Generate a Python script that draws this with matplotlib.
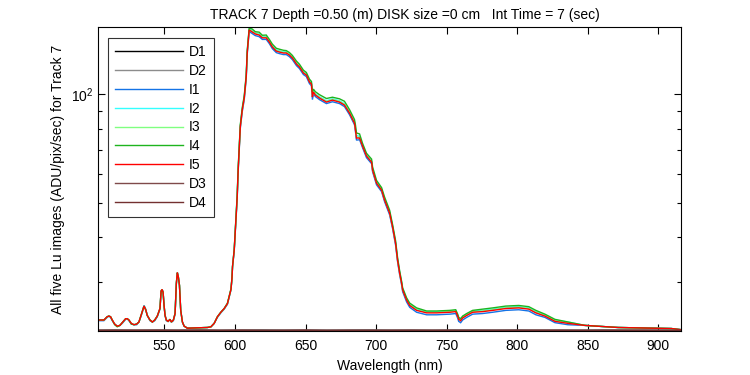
import matplotlib
matplotlib.use("Agg")
import matplotlib.pyplot as plt
from matplotlib.ticker import LogLocator, NullFormatter, FixedLocator

plt.rcParams['font.family'] = ['Liberation Sans', 'DejaVu Sans']

# ---------------- data ----------------
wl = [503.6, 507.2, 509.5, 510.7, 511.9, 513.1, 514.8, 516.6, 518.5, 520.2,
      522.6, 523.7, 524.9, 526.6, 528.5, 530.4, 532.0, 533.2, 534.4, 535.6,
      536.8, 537.9, 539.8, 541.5, 543.2, 545.0, 546.9, 547.7, 548.4, 549.1,
      549.8, 550.5, 551.4, 552.6, 554.0, 555.0, 556.4, 557.6, 558.5, 559.2,
      559.9, 560.7, 561.6, 562.8, 564.0, 566.3, 580.5, 583.0, 585.3, 587.6,
      590.0, 592.4, 594.7, 595.9, 597.2, 597.9, 598.3, 599.5,
      601.6, 602.3, 603.8, 605.2, 606.6, 608.0, 608.7, 610.1, 612.3, 614.4,
      617.2, 619.4, 622.2, 624.4, 626.5, 629.3, 631.5, 634.3, 636.4, 638.6,
      640.7, 643.6, 645.7, 648.5, 650.6, 652.8, 654.2, 654.9, 655.6, 657.0,
      659.9, 664.8, 669.1, 674.1, 677.6, 681.2, 684.7, 685.4, 686.1, 688.3,
      690.4, 693.2, 696.8, 697.5, 700.3, 703.9, 706.0, 709.6, 711.7, 713.8,
      715.2, 716.7, 718.1, 718.8, 721.6, 723.8, 728.7, 735.8, 742.9, 752.2,
      756.4, 757.8, 758.5, 759.9, 761.3, 764.2, 768.4, 775.5, 782.6, 791.9,
      801.1, 808.2, 813.2, 819.6, 826.7, 835.9, 848.0, 871.4, 894.9, 909.1,
      915.5]

I1 = [23.5, 23.5, 24.0, 24.2, 24.0, 23.5, 23.0, 22.7, 22.8, 23.1,
      23.7, 23.8, 23.5, 23.0, 22.9, 22.9, 23.3, 24.0, 24.8, 25.9,
      25.3, 24.3, 23.5, 23.3, 23.5, 24.1, 25.3, 28.4, 28.7, 28.2,
      25.9, 24.3, 23.5, 23.4, 23.6, 23.3, 23.5, 24.5, 29.7, 31.9,
      31.1, 29.4, 25.1, 23.3, 22.7, 22.4, 22.5, 22.6, 23.1, 24.0,
      24.7, 25.3, 26.1, 27.3, 28.6, 30.7, 33.1, 36.7,
      51.2, 60.9, 80.2, 89.4, 96.5, 110.4, 128.7, 149.1, 147.1, 145.3,
      144.3, 141.8, 141.8, 138.0, 133.7, 130.3, 129.5, 128.7, 128.7, 127.0,
      124.6, 119.9, 117.7, 113.3, 111.8, 106.9, 105.5, 96.5, 100.3, 98.4,
      96.5, 94.1, 95.2, 94.1, 92.3, 87.6, 82.2, 78.6, 74.5, 74.7,
      71.0, 66.6, 64.1, 60.9, 56.0, 53.6, 50.3, 46.2, 42.3, 38.1,
      34.3, 31.5, 29.5, 28.3, 26.5, 25.6, 24.8, 24.4, 24.4, 24.5,
      24.6, 23.9, 23.4, 23.2, 23.6, 24.0, 24.5, 24.6, 24.8, 25.1,
      25.2, 25.0, 24.4, 24.0, 23.2, 22.9, 22.8, 22.5, 22.4, 22.35,
      22.2]

I2 = [23.6, 23.6, 24.1, 24.2, 24.1, 23.6, 23.0, 22.7, 22.8, 23.2,
      23.8, 23.8, 23.6, 23.1, 22.9, 23.0, 23.3, 24.1, 24.9, 25.8,
      25.2, 24.3, 23.6, 23.3, 23.6, 24.2, 25.4, 28.4, 28.7, 28.2,
      25.9, 24.3, 23.6, 23.4, 23.7, 23.3, 23.6, 24.6, 29.8, 32.0,
      31.1, 29.5, 25.1, 23.3, 22.7, 22.4, 22.5, 22.6, 23.1, 24.1,
      24.8, 25.4, 26.2, 27.4, 28.7, 30.8, 33.2, 37.0,
      52.1, 62.0, 81.6, 91.0, 98.3, 112.4, 131.0, 151.8, 149.8, 148.0,
      147.0, 144.3, 144.3, 140.5, 136.2, 132.7, 131.8, 131.0, 131.0, 129.3,
      126.9, 122.1, 119.9, 115.3, 113.8, 108.9, 107.5, 99.5, 102.1, 100.2,
      98.3, 95.8, 97.0, 95.8, 94.0, 89.2, 83.7, 80.5, 76.8, 76.3,
      72.3, 67.8, 65.2, 62.0, 57.1, 54.5, 51.2, 47.1, 43.0, 38.8,
      34.9, 32.1, 30.0, 28.8, 27.0, 26.1, 25.3, 24.9, 24.9, 25.0,
      25.1, 24.4, 23.9, 23.7, 24.1, 24.5, 25.0, 25.1, 25.3, 25.6,
      25.7, 25.5, 24.9, 24.4, 23.6, 23.3, 22.8, 22.5, 22.4, 22.35,
      22.2]

I3 = [23.6, 23.6, 24.1, 24.2, 24.1, 23.6, 23.0, 22.7, 22.8, 23.2,
      23.8, 23.8, 23.6, 23.1, 22.9, 23.0, 23.3, 24.1, 24.9, 25.8,
      25.2, 24.3, 23.6, 23.3, 23.6, 24.2, 25.4, 28.4, 28.7, 28.2,
      25.9, 24.3, 23.6, 23.4, 23.7, 23.3, 23.6, 24.6, 29.8, 32.0,
      31.1, 29.5, 25.1, 23.3, 22.7, 22.4, 22.5, 22.6, 23.1, 24.1,
      24.8, 25.4, 26.2, 27.4, 28.7, 30.8, 33.2, 36.9,
      51.9, 61.7, 81.3, 90.7, 97.9, 111.9, 130.5, 151.2, 149.2, 147.4,
      146.4, 143.8, 143.8, 140.0, 135.6, 132.1, 131.3, 130.5, 130.5, 128.8,
      126.4, 121.6, 119.4, 114.9, 113.4, 108.4, 107.0, 98.8, 101.7, 99.8,
      97.9, 95.4, 96.6, 95.4, 93.6, 88.9, 83.3, 79.9, 76.0, 75.8,
      72.0, 67.6, 65.0, 61.7, 56.8, 54.3, 51.0, 46.9, 42.9, 38.7,
      34.7, 31.9, 29.9, 28.7, 26.9, 26.0, 25.2, 24.8, 24.8, 24.9,
      25.0, 24.3, 23.8, 23.6, 24.0, 24.4, 24.9, 25.0, 25.2, 25.5,
      25.6, 25.4, 24.8, 24.3, 23.5, 23.2, 22.8, 22.5, 22.4, 22.35,
      22.2]

I4 = [23.6, 23.6, 24.1, 24.2, 24.1, 23.6, 22.9, 22.6, 22.8, 23.2,
      23.8, 23.8, 23.6, 23.0, 22.9, 23.0, 23.3, 24.1, 24.9, 25.8,
      25.2, 24.3, 23.6, 23.3, 23.6, 24.2, 25.4, 28.4, 28.6, 28.2,
      25.9, 24.3, 23.6, 23.4, 23.7, 23.3, 23.6, 24.6, 29.8, 31.9,
      31.1, 29.5, 25.1, 23.3, 22.7, 22.4, 22.5, 22.6, 23.1, 24.1,
      24.8, 25.4, 26.3, 27.5, 28.8, 30.9, 33.3, 37.1,
      52.5, 62.4, 82.2, 91.7, 99.0, 113.2, 132.0, 152.5, 151.5, 149.0,
      148.5, 145.6, 145.8, 141.8, 137.6, 134.0, 133.2, 132.3, 132.0, 130.4,
      128.0, 123.4, 121.0, 116.5, 114.8, 110.0, 108.4, 101.5, 103.2, 101.5,
      99.6, 97.2, 98.0, 97.0, 95.5, 90.5, 85.0, 82.0, 78.0, 77.5,
      73.0, 68.5, 66.0, 62.8, 57.6, 55.0, 51.8, 47.6, 43.4, 39.2,
      35.2, 32.3, 30.2, 29.0, 27.2, 26.3, 25.5, 25.0, 25.0, 25.1,
      25.2, 24.5, 24.0, 23.8, 24.2, 24.6, 25.1, 25.3, 25.5, 25.8,
      25.9, 25.7, 25.1, 24.5, 23.7, 23.3, 22.8, 22.5, 22.4, 22.35,
      22.2]

I5 = [23.6, 23.6, 24.1, 24.2, 24.1, 23.6, 23.0, 22.7, 22.8, 23.2,
      23.8, 23.8, 23.6, 23.1, 22.9, 23.0, 23.3, 24.1, 24.9, 25.8,
      25.2, 24.3, 23.6, 23.3, 23.6, 24.2, 25.4, 28.4, 28.7, 28.2,
      25.9, 24.3, 23.6, 23.4, 23.7, 23.3, 23.6, 24.6, 29.8, 32.0,
      31.1, 29.5, 25.1, 23.3, 22.7, 22.4, 22.5, 22.6, 23.1, 24.1,
      24.8, 25.4, 26.2, 27.4, 28.7, 30.8, 33.2, 36.9,
      51.7, 61.5, 81.0, 90.3, 97.5, 111.5, 130.0, 150.6, 148.6, 146.8,
      145.8, 143.2, 143.2, 139.4, 135.1, 131.6, 130.8, 130.0, 130.0, 128.3,
      125.9, 121.1, 118.9, 114.4, 112.9, 108.0, 106.6, 98.1, 101.3, 99.4,
      97.5, 95.0, 96.2, 95.0, 93.2, 88.5, 83.0, 79.4, 75.5, 75.5,
      71.7, 67.3, 64.7, 61.5, 56.6, 54.1, 50.8, 46.7, 42.7, 38.5,
      34.6, 31.8, 29.8, 28.6, 26.8, 25.9, 25.1, 24.7, 24.7, 24.8,
      24.9, 24.2, 23.7, 23.5, 23.9, 24.3, 24.8, 24.9, 25.1, 25.4,
      25.5, 25.3, 24.7, 24.2, 23.4, 23.1, 22.8, 22.5, 22.4, 22.35,
      22.2]

dark_wl = [503, 515, 530, 545, 560, 575, 590, 605, 620, 635, 650, 665, 680,
           695, 710, 725, 740, 755, 770, 785, 800, 815, 830, 845, 860, 875,
           890, 905, 916]
D1 = [22.10, 22.12, 22.08, 22.11, 22.09, 22.13, 22.08, 22.10, 22.12, 22.09,
      22.11, 22.08, 22.10, 22.12, 22.09, 22.10, 22.08, 22.11, 22.09, 22.10,
      22.12, 22.08, 22.10, 22.09, 22.11, 22.10, 22.08, 22.10, 22.09]
D2 = [22.12, 22.09, 22.13, 22.08, 22.12, 22.10, 22.11, 22.09, 22.10, 22.13,
      22.08, 22.11, 22.09, 22.10, 22.12, 22.08, 22.11, 22.10, 22.12, 22.09,
      22.10, 22.11, 22.09, 22.12, 22.08, 22.10, 22.11, 22.09, 22.10]
D3 = [22.09, 22.11, 22.10, 22.12, 22.08, 22.11, 22.09, 22.12, 22.08, 22.10,
      22.12, 22.09, 22.11, 22.08, 22.10, 22.12, 22.09, 22.10, 22.11, 22.08,
      22.09, 22.12, 22.10, 22.08, 22.11, 22.09, 22.12, 22.08, 22.10]
D4 = [22.08, 22.08, 22.09, 22.08, 22.09, 22.08, 22.08, 22.09, 22.08, 22.08,
      22.09, 22.08, 22.08, 22.09, 22.08, 22.08, 22.09, 22.08, 22.08, 22.09,
      22.08, 22.08, 22.09, 22.08, 22.08, 22.09, 22.08, 22.08, 22.08]

series = [("D1", dark_wl, D1, "#000000"),
          ("D2", dark_wl, D2, "#8c8c8c"),
          ("I1", wl, I1, "#1473e6"),
          ("I2", wl, I2, "#33ffff"),
          ("I3", wl, I3, "#80ff80"),
          ("I4", wl, I4, "#1eb41e"),
          ("I5", wl, I5, "#ff0000"),
          ("D3", dark_wl, D3, "#7f4a4a"),
          ("D4", dark_wl, D4, "#733030")]

title = "TRACK 7 Depth =0.50 (m) DISK size =0 cm   Int Time = 7 (sec)"
xlabel = "Wavelength (nm)"
ylabel = "All five Lu images (ADU/pix/sec) for Track 7"
xticks = [550, 600, 650, 700, 750, 800, 850, 900]

# ---------------- figure ----------------
fig = plt.figure(figsize=(7.5, 3.75), dpi=100)
ax = fig.add_axes([98/750, 1 - 331/375, (681-98)/750, (331-27)/375])

for name, x, y, c in series:
    ax.plot(x, y, color=c, lw=1.0, label=name, solid_joinstyle='miter')

ax.set_yscale('log')
ax.set_xlim(503, 916)
ax.set_ylim(22.0, 153.5)
ax.xaxis.set_major_locator(FixedLocator(xticks))
ax.yaxis.set_major_locator(LogLocator(base=10))
ax.yaxis.set_minor_locator(LogLocator(base=10, subs=range(2, 10)))
ax.yaxis.set_minor_formatter(NullFormatter())

ax.tick_params(which='both', direction='in', top=True, right=True,
               labelsize=10, width=0.8, color='black')
ax.tick_params(which='major', length=5)
ax.tick_params(which='minor', length=3)
ax.tick_params(axis='x', which='major', pad=6)
for s in ax.spines.values():
    s.set_linewidth(0.8)

ax.set_title(title, fontsize=10, pad=6, x=(405 - 98) / 583)
ax.set_xlabel(xlabel, fontsize=10, labelpad=4)
ax.set_ylabel(ylabel, fontsize=10, labelpad=4)

leg = ax.legend(loc='upper left', bbox_to_anchor=(10/583, 1 - 11/304),
                fontsize=10, frameon=True, fancybox=False, edgecolor='black',
                handlelength=4.9, handletextpad=0.45, labelspacing=0.35,
                borderpad=0.5, borderaxespad=0)
leg.get_frame().set_linewidth(0.8)

fig.savefig("out.png", dpi=100)
